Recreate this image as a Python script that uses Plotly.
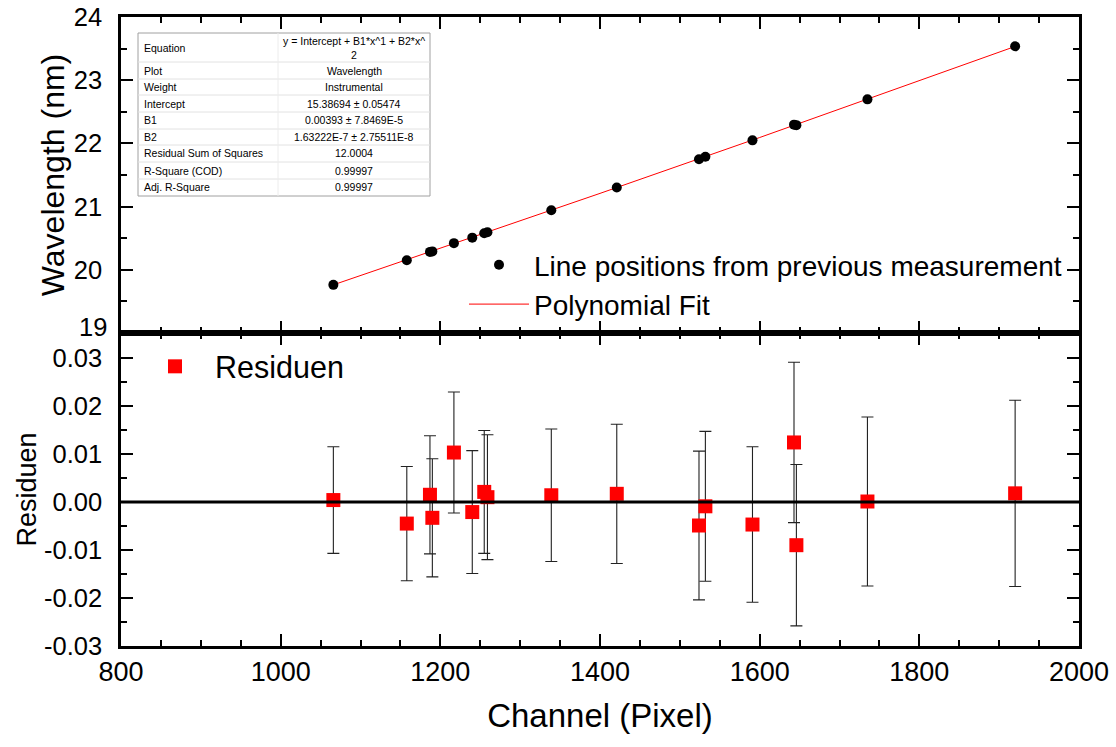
import plotly.graph_objects as go
from plotly.subplots import make_subplots

# ---------------- data ----------------
channel = [1066, 1158, 1187, 1190, 1217, 1240, 1255, 1259, 1339, 1421,
           1524, 1532, 1591, 1643, 1646, 1735, 1920]
wavelength = [19.762, 20.152, 20.283, 20.291, 20.422, 20.509, 20.578, 20.595,
              20.943, 21.303, 21.750, 21.790, 22.048, 22.297, 22.289, 22.697, 23.536]
residual = [0.0004, -0.0045, 0.0015, -0.0033, 0.0103, -0.0021, 0.0021, 0.0010,
            0.0014, 0.0017, -0.0049, -0.0009, -0.0047, 0.0124, -0.0090, 0.0001, 0.0018]
residual_err = [0.0111, 0.0119, 0.0123, 0.0123, 0.0126, 0.0128, 0.0128, 0.0130,
                0.0138, 0.0145, 0.0155, 0.0156, 0.0162, 0.0167, 0.0168, 0.0176, 0.0194]

fit_x = [1066, 1200, 1400, 1600, 1800, 1920]
fit_y = [19.762, 20.338, 21.209, 22.093, 22.990, 23.534]

x_ticks = [800, 1000, 1200, 1400, 1600, 1800, 2000]
wl_ticks = [19, 20, 21, 22, 23, 24]
wl_ticktext = ["19", "20", "21", "22", "23", "24"]
res_ticks = [-0.03, -0.02, -0.01, 0.0, 0.01, 0.02, 0.03]
res_ticktext = ["-0.03", "-0.02", "-0.01", "0.00", "0.01", "0.02", "0.03"]

table_labels = ["Equation", "Plot", "Weight", "Intercept", "B1", "B2",
                "Residual Sum of Squares", "R-Square (COD)", "Adj. R-Square"]
table_values = ["y = Intercept + B1*x^1 + B2*x^<br>2", "Wavelength", "Instrumental",
                "15.38694 ± 0.05474", "0.00393 ± 7.8469E-5", "1.63222E-7 ± 2.75511E-8",
                "12.0004", "0.99997", "0.99997"]

# ---------------- layout geometry ----------------
W, H = 1116, 747
ML, MR, MT, MB = 121, 37, 17, 101
PW, PH = W - ML - MR, H - MT - MB


def px_x(p):
    return (p - ML) / PW


def px_y(p):
    return (H - MB - p) / PH


FONT = "Liberation Sans, Arial, sans-serif"
split = px_y(333)

fig = make_subplots(rows=2, cols=1, shared_xaxes=True, vertical_spacing=0,
                    row_heights=[1 - split, split])

fig.add_trace(go.Scatter(x=fit_x, y=fit_y, mode="lines",
                         line=dict(color="red", width=1),
                         name="Polynomial Fit", legend="legend"), row=1, col=1)
fig.add_trace(go.Scatter(x=channel, y=wavelength, mode="markers",
                         marker=dict(color="black", size=10, symbol="circle"),
                         name="Line positions from previous measurement",
                         legend="legend"), row=1, col=1)
fig.add_trace(go.Scatter(x=channel, y=residual, mode="markers",
                         marker=dict(color="red", size=14, symbol="square"),
                         error_y=dict(type="data", array=residual_err, visible=True,
                                      color="#222", thickness=1.1, width=6),
                         name="Residuen", legend="legend2"), row=2, col=1)

axis_common = dict(showline=True, linewidth=2.5, linecolor="black", mirror="ticks",
                   ticks="inside", ticklen=12, tickwidth=2, tickcolor="black",
                   showgrid=False, zeroline=False)

fig.update_xaxes(range=[800, 2000], tickvals=x_ticks,
                 tickfont=dict(family=FONT, size=27, color="black"),
                 minor=dict(ticks="inside", ticklen=6, tickwidth=2, dtick=50,
                            tick0=800, tickcolor="black"),
                 **axis_common)
fig.update_xaxes(showticklabels=False, row=1, col=1)
fig.update_xaxes(title=dict(text="Channel (Pixel)", font=dict(family=FONT, size=33),
                            standoff=18), row=2, col=1)

yfont = dict(family=FONT, size=25.5, color="black")
# the lowest wavelength label sits right above the residual panel's top label;
# it is drawn as an annotation nudged slightly upward so the two do not collide
fig.update_yaxes(range=[19, 24], tickvals=wl_ticks,
                 ticktext=[""] + wl_ticktext[1:], tickfont=yfont,
                 minor=dict(ticks="inside", ticklen=6, tickwidth=2, dtick=0.5,
                            tick0=19, tickcolor="black"),
                 title=dict(text="Wavelength (nm)", font=dict(family=FONT, size=32),
                            standoff=0),
                 ticklabelstandoff=11,
                 row=1, col=1, **axis_common)
fig.add_annotation(xref="paper", yref="y", x=0, y=wl_ticks[0], text=wl_ticktext[0],
                   showarrow=False, xanchor="right", yanchor="middle",
                   xshift=-12, yshift=6, font=yfont)

fig.update_yaxes(range=[-0.03, 0.0352], tickvals=res_ticks, ticktext=res_ticktext,
                 tickfont=yfont,
                 minor=dict(ticks="inside", ticklen=6, tickwidth=2, dtick=0.005,
                            tick0=-0.03, tickcolor="black"),
                 title=dict(text="Residuen", font=dict(family=FONT, size=27),
                            standoff=0),
                 ticklabelstandoff=11,
                 row=2, col=1, **axis_common)

# zero line in the residual panel
fig.add_shape(type="line", xref="x2 domain", yref="y2", x0=0, x1=1, y0=0, y1=0,
              line=dict(color="black", width=3), layer="above")

# ---------------- parameter table ----------------
row_edges = [33, 62, 79, 95, 112, 129, 145, 162, 179, 196]
tx0, tx1, txm = 138, 430, 278
fig.add_shape(type="rect", xref="paper", yref="paper",
              x0=px_x(tx0), x1=px_x(tx1), y0=px_y(row_edges[-1]), y1=px_y(row_edges[0]),
              line=dict(color="#a0a0a0", width=1), fillcolor="white", layer="above")
for e in row_edges[1:-1]:
    fig.add_shape(type="line", xref="paper", yref="paper",
                  x0=px_x(tx0), x1=px_x(tx1), y0=px_y(e), y1=px_y(e),
                  line=dict(color="#e2e2e2", width=1), layer="above")
fig.add_shape(type="line", xref="paper", yref="paper",
              x0=px_x(txm), x1=px_x(txm), y0=px_y(row_edges[-1]), y1=px_y(row_edges[0]),
              line=dict(color="#ececec", width=1), layer="above")
for i, (lab, val) in enumerate(zip(table_labels, table_values)):
    yc = px_y((row_edges[i] + row_edges[i + 1]) / 2)
    fig.add_annotation(xref="paper", yref="paper", x=px_x(142), y=yc, text=lab,
                       showarrow=False, xanchor="left", yanchor="middle",
                       font=dict(family=FONT, size=10.5, color="black"))
    fig.add_annotation(xref="paper", yref="paper", x=px_x(354), y=yc, text=val,
                       showarrow=False, xanchor="center", yanchor="middle",
                       font=dict(family=FONT, size=10.5, color="black"))

fig.update_layout(
    width=W, height=H,
    margin=dict(l=ML, r=MR, t=MT, b=MB, autoexpand=False),
    paper_bgcolor="white", plot_bgcolor="white",
    font=dict(family=FONT, color="black"),
    legend=dict(x=px_x(464), y=px_y(240), xanchor="left", yanchor="top",
                bgcolor="rgba(0,0,0,0)", itemwidth=60, traceorder="reversed",
                font=dict(family=FONT, size=28, color="black")),
    legend2=dict(x=px_x(135), y=px_y(340), xanchor="left", yanchor="top",
                 bgcolor="rgba(0,0,0,0)", itemwidth=70,
                 font=dict(family=FONT, size=30.5, color="black")),
)

fig.write_html("out.html")
